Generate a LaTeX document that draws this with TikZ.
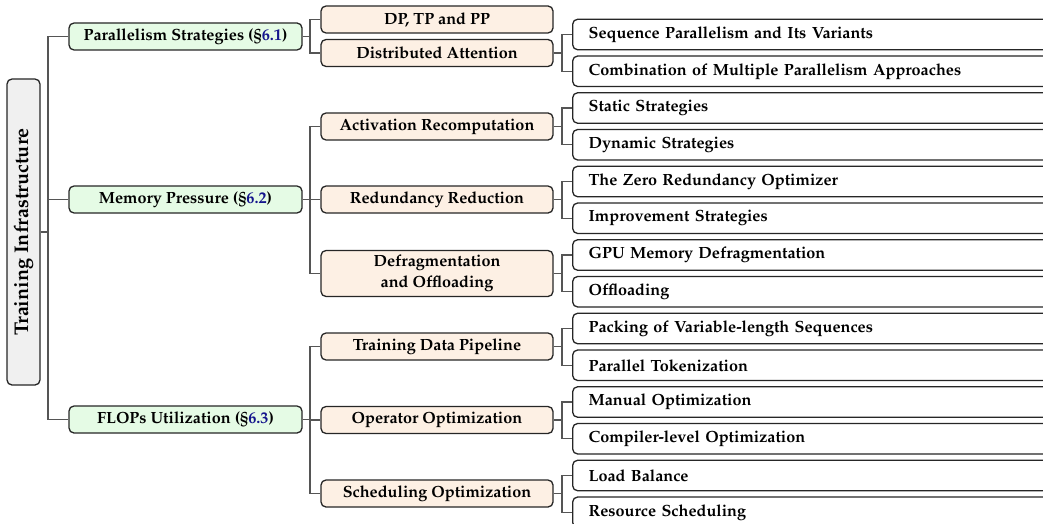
\documentclass[tikz,border=0pt]{standalone}
\usepackage[T1]{fontenc}
\usepackage{mathpazo}
\usepackage{graphicx}
\usepackage{xcolor}
\usepackage{tikz}

\definecolor{rootgray}{RGB}{240,240,240}
\definecolor{topgreen}{RGB}{229,251,229}
\definecolor{midorange}{RGB}{253,240,228}
\definecolor{secblue}{RGB}{20,20,140}
\definecolor{linkgray}{RGB}{85,85,85}
\newcommand{\secref}[1]{(\S\textcolor{secblue}{#1})}

\begin{document}
\begin{tikzpicture}[x=1pt, y=-1pt,
    box/.style={draw=black!85, line width=1.3pt, rounded corners=5pt, inner sep=0pt,
      font=\fontsize{16.2}{21}\selectfont\bfseries},
    rootbox/.style={box, fill=rootgray, minimum width=33pt, minimum height=306pt,
      font=\fontsize{19.8}{24}\selectfont\bfseries},
    topbox/.style={box, fill=topgreen, minimum width=233pt, minimum height=27pt},
    midbox/.style={box, fill=midorange, minimum width=232pt, minimum height=27pt, align=center},
    leafbox/.style={box, fill=white, anchor=west, minimum height=30.5pt, text width=470pt,
      inner xsep=16pt, align=left},
    link/.style={draw=linkgray, line width=1.4pt}]
      \useasboundingbox (0,0) rectangle (1043,524);
      \clip (0,0) rectangle (1043,524);

      % root
      \node[rootbox] (root) at (23.5,232) {\rotatebox{90}{Training Infrastructure}};

      % first level
      \node[topbox] (par) at (185.5,36.5) {Parallelism Strategies \secref{6.1}};
      \node[topbox] (mem) at (185.5,199.5) {Memory Pressure \secref{6.2}};
      \node[topbox] (flops) at (185.5,419.5) {FLOPs Utilization \secref{6.3}};

      % second level
      \node[midbox] (dptp) at (437,19.5) {DP, TP and PP};
      \node[midbox] (distatt) at (437,53) {Distributed Attention};
      \node[midbox] (actrec) at (437,126.5) {Activation Recomputation};
      \node[midbox] (redred) at (437,199.5) {Redundancy Reduction};
      \node[midbox, minimum height=46pt] (defrag) at (437,273.5) {Defragmentation\\and Offloading};
      \node[midbox] (datapipe) at (437,346.5) {Training Data Pipeline};
      \node[midbox] (opopt) at (437,420) {Operator Optimization};
      \node[midbox] (schedopt) at (437,493.5) {Scheduling Optimization};

      % leaves
      \node[leafbox] (seqpar) at (572,34.5) {Sequence Parallelism and Its Variants};
      \node[leafbox] (combo) at (572,71.25) {Combination of Multiple Parallelism Approaches};
      \node[leafbox] (static) at (572,108) {Static Strategies};
      \node[leafbox] (dynamic) at (572,144.75) {Dynamic Strategies};
      \node[leafbox] (zero) at (572,181.5) {The Zero Redundancy Optimizer};
      \node[leafbox] (improve) at (572,218.25) {Improvement Strategies};
      \node[leafbox] (gpudefrag) at (572,255) {GPU Memory Defragmentation};
      \node[leafbox] (offload) at (572,291.75) {Offloading};
      \node[leafbox] (packing) at (572,328.5) {Packing of Variable-length Sequences};
      \node[leafbox] (tokenize) at (572,365.25) {Parallel Tokenization};
      \node[leafbox] (manual) at (572,402) {Manual Optimization};
      \node[leafbox] (compiler) at (572,438.75) {Compiler-level Optimization};
      \node[leafbox] (loadbal) at (572,475.5) {Load Balance};
      \node[leafbox] (resched) at (572,512.25) {Resource Scheduling};

      % forks
      \coordinate (trunk) at (48,0);
      \coordinate (fork1) at (310,0);
      \coordinate (fork2) at (562,0);

      \draw[link] (root.east) -- (root.east -| trunk);
      \draw[link] (par.west) -| (trunk |- flops.west) -- (flops.west);
      \draw[link] (mem.west) -- (mem.west -| trunk);

      \draw[link] (par.east) -- (par.east -| fork1);
      \draw[link] (dptp.west) -| (fork1 |- distatt.west) -- (distatt.west);
      \draw[link] (mem.east) -- (mem.east -| fork1);
      \draw[link] (actrec.west) -| (fork1 |- defrag.west) -- (defrag.west);
      \draw[link] (redred.west) -- (redred.west -| fork1);
      \draw[link] (flops.east) -- (flops.east -| fork1);
      \draw[link] (datapipe.west) -| (fork1 |- schedopt.west) -- (schedopt.west);
      \draw[link] (opopt.west) -- (opopt.west -| fork1);

      \draw[link] (distatt.east) -- (distatt.east -| fork2);
      \draw[link] (seqpar.west) -| (fork2 |- combo.west) -- (combo.west);
      \draw[link] (actrec.east) -- (actrec.east -| fork2);
      \draw[link] (static.west) -| (fork2 |- dynamic.west) -- (dynamic.west);
      \draw[link] (redred.east) -- (redred.east -| fork2);
      \draw[link] (zero.west) -| (fork2 |- improve.west) -- (improve.west);
      \draw[link] (defrag.east) -- (defrag.east -| fork2);
      \draw[link] (gpudefrag.west) -| (fork2 |- offload.west) -- (offload.west);
      \draw[link] (datapipe.east) -- (datapipe.east -| fork2);
      \draw[link] (packing.west) -| (fork2 |- tokenize.west) -- (tokenize.west);
      \draw[link] (opopt.east) -- (opopt.east -| fork2);
      \draw[link] (manual.west) -| (fork2 |- compiler.west) -- (compiler.west);
      \draw[link] (schedopt.east) -- (schedopt.east -| fork2);
      \draw[link] (loadbal.west) -| (fork2 |- resched.west) -- (resched.west);
    \end{tikzpicture}
\end{document}
